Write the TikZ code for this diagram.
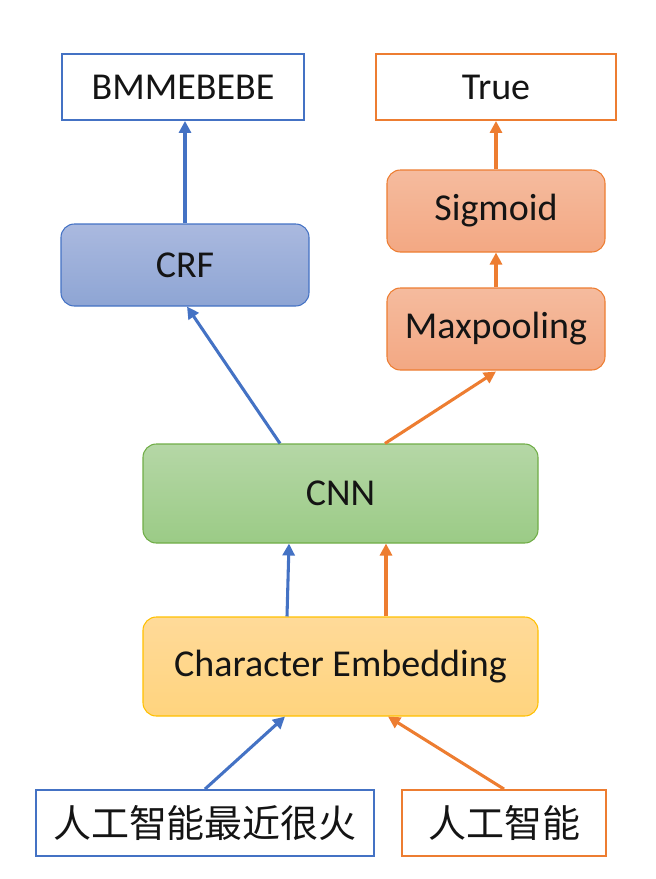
\documentclass[tikz,border=0pt]{standalone}
\usepackage{fontspec}
\setmainfont{Carlito}
\newfontfamily\cjk{Noto Sans CJK SC}
\usetikzlibrary{arrows.meta}
\definecolor{myblue}{HTML}{4472C4}
\definecolor{myorange}{HTML}{ED7D31}
\definecolor{mygreen}{HTML}{70AD47}
\definecolor{mygold}{HTML}{FFC000}
\begin{document}
\begin{tikzpicture}[x=0.75pt,y=-0.75pt,font=\fontsize{28.5}{32}\selectfont,
box/.style={shape=rectangle,line width=1.4pt,inner sep=0pt,text=black!92},
outB/.style={box,draw=myblue,fill=white},
outO/.style={box,draw=myorange,fill=white},
layer/.style={box,rounded corners=10pt,line width=0.8pt},
crfL/.style={layer,draw=myblue,top color={rgb,255:red,170;green,185;blue,223},bottom color={rgb,255:red,142;green,165;blue,212}},
orL/.style={layer,draw=myorange,top color={rgb,255:red,245;green,187;blue,158},bottom color={rgb,255:red,243;green,168;blue,131}},
grL/.style={layer,draw=mygreen,top color={rgb,255:red,181;green,215;blue,166},bottom color={rgb,255:red,155;green,203;blue,134}},
ylL/.style={layer,draw=mygold,top color={rgb,255:red,255;green,218;blue,153},bottom color={rgb,255:red,255;green,212;blue,126}},
arB/.style={draw=myblue,line width=2.3pt,-{Triangle[length=9pt,width=9pt]}},
arO/.style={draw=myorange,line width=2.3pt,-{Triangle[length=9pt,width=9pt]}}]
\def\px{0.75pt};
\useasboundingbox (0,0) rectangle (656,879);

\node[outB,minimum width=242*\px,minimum height=66*\px] (tags) at (183,87) {BMMEBEBE};
\node[outO,minimum width=240*\px,minimum height=66*\px] (label) at (496,87) {True};

\node[orL,minimum width=218*\px,minimum height=82*\px] (sig) at (496,211) {Sigmoid};
\node[orL,minimum width=218*\px,minimum height=82*\px] (maxp) at (496,329) {Maxpooling};
\node[crfL,minimum width=248*\px,minimum height=82*\px] (crf) at (185,265) {CRF};

\node[grL,minimum width=395*\px,minimum height=99*\px] (cnn) at (340.5,493.5) {CNN};
\node[ylL,minimum width=395*\px,minimum height=99*\px] (emb) at (340.5,666.5) {Character Embedding};

\node[outB,minimum width=338*\px,minimum height=66*\px,font=\cjk\fontsize{28.5}{32}\selectfont] (sent) at (205,823) {人工智能最近很火};
\node[outO,minimum width=204*\px,minimum height=66*\px,font=\cjk\fontsize{28.5}{32}\selectfont] (word) at (504,823) {人工智能};

% upper part
\draw[arB] (crf.north) -- (crf.north |- tags.south);
\draw[arO] (sig.north) -- (label.south);
\draw[arO] (maxp.north) -- (sig.south);
\draw[arB] ([xshift=-60.5*\px]cnn.north) -- ([xshift=2*\px]crf.south);
\draw[arO] ([xshift=44.5*\px]cnn.north) -- ([yshift=-1*\px]maxp.south);

% lower part
\draw[arB] ([xshift=-53.5*\px]emb.north) -- ([xshift=-51.5*\px]cnn.south);
\draw[arO] ([xshift=45.5*\px]emb.north) -- ([xshift=45.5*\px]cnn.south);
\draw[arB] (sent.north) -- ([xshift=-55.5*\px]emb.south);
\draw[arO] (word.north) -- ([xshift=47.5*\px]emb.south);
\end{tikzpicture}
\end{document}
